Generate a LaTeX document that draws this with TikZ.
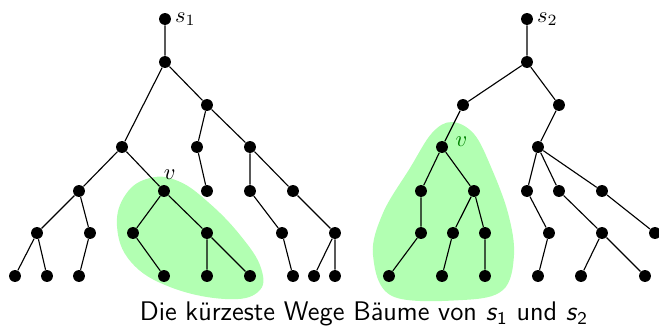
\documentclass[tikz,border=0pt]{standalone}
\usepackage{tikz}
\usetikzlibrary{positioning}

\begin{document}
\begin{tikzpicture}[x=0.446pt, y=-0.446pt, every node/.style={font=\normalsize}, vtx/.style={circle, fill=black, inner sep=0pt, minimum size=5.3pt}, blob/.style={fill=green!30, draw=none}, edge/.style={line width=0.5pt}]
\useasboundingbox (0,0) rectangle (659,330);
% shaded subtrees
\fill[blob] plot[smooth cycle, tension=0.7] coordinates {(150,178) (178,181) (208,202) (240,235) (261,268) (258,292) (225,299) (170,287) (131,262) (117,226) (126,194)};
\fill[blob] plot[smooth cycle, tension=0.6] coordinates {(452,122) (474,134) (491,167) (508,213) (514,255) (503,290) (463,300) (392,296) (373,255) (383,213) (410,168) (432,133)};
% left tree
\node[vtx, label={[inner sep=1.5pt]right:$s_1$}] (s1) at (165,19) {};
\node[vtx] (a1) at (165,62) {};
\node[vtx] (a2) at (122,147) {}; \node[vtx] (a3) at (207,105) {};
\node[vtx] (a4) at (197,147) {}; \node[vtx] (a5) at (250,147) {};
\node[vtx] (b1) at (79,191) {}; \node[vtx, label={[inner sep=2pt, xshift=2.5pt]above:$v$}] (v1) at (164,191) {};
\node[vtx] (b3) at (207,191) {}; \node[vtx] (b4) at (250,191) {}; \node[vtx] (b5) at (293,191) {};
\node[vtx] (c1) at (37,233) {}; \node[vtx] (c2) at (90,233) {}; \node[vtx] (c3) at (133,233) {};
\node[vtx] (c4) at (207,233) {}; \node[vtx] (c5) at (282,233) {}; \node[vtx] (c6) at (335,233) {};
\node[vtx] (d1) at (15,276) {}; \node[vtx] (d2) at (47,276) {}; \node[vtx] (d3) at (79,276) {};
\node[vtx] (d4) at (164,276) {}; \node[vtx] (d5) at (207,276) {}; \node[vtx] (d6) at (250,276) {};
\node[vtx] (d7) at (293,276) {}; \node[vtx] (d8) at (314,276) {}; \node[vtx] (d9) at (335,276) {};
\draw[edge] (s1)--(a1) (a1)--(a2) (a1)--(a3) (a3)--(a4) (a3)--(a5);
\draw[edge] (a2)--(b1) (a2)--(v1) (a4)--(b3) (a5)--(b4) (a5)--(b5);
\draw[edge] (b1)--(c1) (b1)--(c2) (v1)--(c3) (v1)--(c4) (b4)--(c5) (b5)--(c6);
\draw[edge] (c1)--(d1) (c1)--(d2) (c2)--(d3) (c3)--(d4) (c4)--(d5) (c4)--(d6) (c5)--(d7) (c6)--(d8) (c6)--(d9);
% right tree
\node[vtx, label={[inner sep=1.5pt]right:$s_2$}] (s2) at (527,19) {};
\node[vtx] (r1) at (527,62) {};
\node[vtx] (r2) at (463,105) {}; \node[vtx] (r3) at (559,105) {};
\node[vtx, label={[inner sep=0pt, xshift=3pt, yshift=2.5pt, text=green!50!black]right:$v$}] (v2) at (442,147) {}; \node[vtx] (r4) at (538,147) {};
\node[vtx] (e1) at (421,191) {}; \node[vtx] (e2) at (474,191) {}; \node[vtx] (e3) at (527,191) {};
\node[vtx] (e4) at (559,191) {}; \node[vtx] (e5) at (602,191) {};
\node[vtx] (f1) at (421,233) {}; \node[vtx] (f2) at (453,233) {}; \node[vtx] (f3) at (485,233) {};
\node[vtx] (f4) at (549,233) {}; \node[vtx] (f5) at (602,233) {}; \node[vtx] (f6) at (655,233) {};
\node[vtx] (g1) at (389,276) {}; \node[vtx] (g2) at (442,276) {}; \node[vtx] (g3) at (485,276) {};
\node[vtx] (g4) at (538,276) {}; \node[vtx] (g5) at (581,276) {}; \node[vtx] (g6) at (645,276) {};
\draw[edge] (s2)--(r1) (r1)--(r2) (r1)--(r3) (r2)--(v2) (r3)--(r4);
\draw[edge] (v2)--(e1) (v2)--(e2) (r4)--(e3) (r4)--(e4) (r4)--(e5);
\draw[edge] (e1)--(f1) (e2)--(f2) (e2)--(f3) (e3)--(f4) (e4)--(f5) (e5)--(f6);
\draw[edge] (f1)--(g1) (f2)--(g2) (f3)--(g3) (f4)--(g4) (f5)--(g5) (f5)--(g6);
% caption
\node[font=\sffamily\large] (cap) at (364,314) {Die kürzeste Wege Bäume von \textit{s}$_{\mathsf{1}}$ und \textit{s}$_{\mathsf{2}}$};
\end{tikzpicture}
\end{document}
